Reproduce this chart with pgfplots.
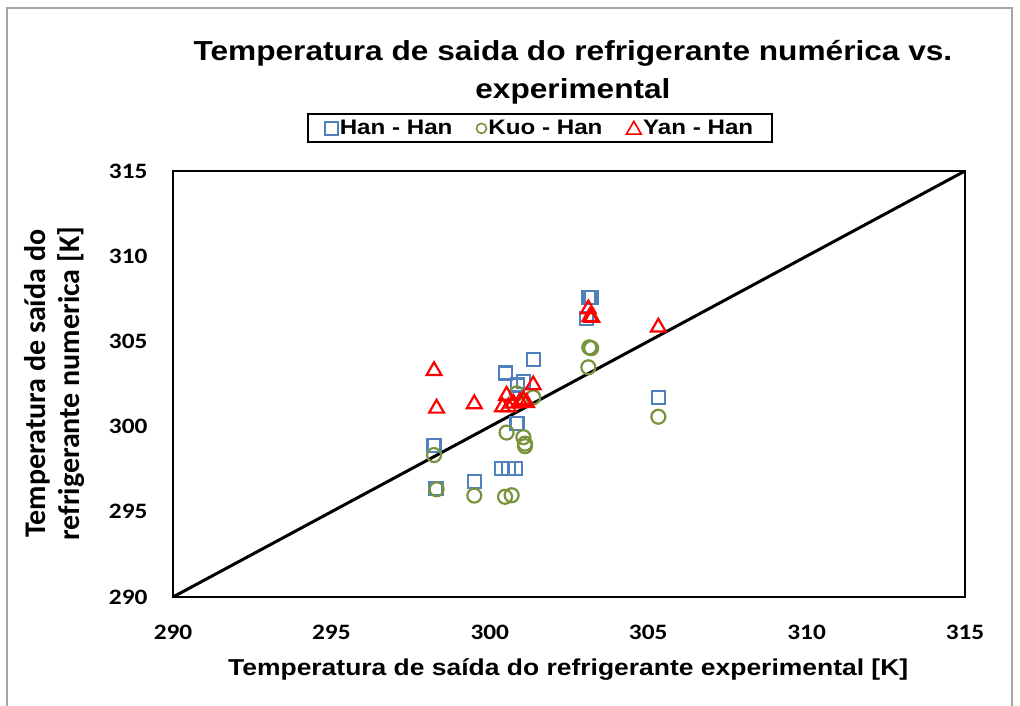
\documentclass[border=0pt]{standalone}
\usepackage{fontspec}
\setmainfont[FakeStretch=1.15]{Liberation Sans}
\newfontfamily\calibri[FakeStretch=1.15]{Carlito}
\newfontfamily\calibriR{Carlito}
\usepackage{pgfplots}
\pgfplotsset{compat=1.18}
\definecolor{hanblue}{RGB}{79,129,189}
\definecolor{kuogreen}{RGB}{119,147,60}
\definecolor{yanred}{RGB}{255,0,0}
\begin{document}
\begin{tikzpicture}[x=1pt,y=1pt]
\useasboundingbox (0,0) rectangle (1020,706);
\draw[gray!70, line width=1.2pt] (7,-5) -- (7,698) -- (1012,698) -- (1012,-5);
\begin{axis}[
  at={(173pt,109pt)}, anchor=south west,
  scale only axis, width=792pt, height=426pt,
  xmin=290, xmax=315, ymin=290, ymax=315,
  xtick={290,295,...,315}, ytick={290,295,...,315},
  major tick length=0pt,
  axis line style={line width=2.5pt, black},
  tick label style={font=\calibri\fontsize{22}{24}\selectfont\bfseries},
  /pgf/number format/assume math mode=true,
  xticklabel style={yshift=-25pt},
  yticklabel style={xshift=-22pt},
  title={Temperatura de saida do refrigerante numérica vs.\\experimental},
  title style={font=\fontsize{27.5}{38}\selectfont\bfseries, align=center, at={(rel axis cs:0.505,1.218)}, anchor=center},
  xlabel={Temperatura de saída do refrigerante experimental [K]},
  xlabel style={font=\fontsize{23}{26}\selectfont\bfseries, at={(rel axis cs:0.499,-0.171)}, anchor=center},
  ylabel={Temperatura de saída do\\refrigerante numerica [K]},
  ylabel style={font=\calibriR\fontsize{30}{34}\selectfont\bfseries, align=center, at={(rel axis cs:-0.149,0.501)}, anchor=center},
  legend columns=3,
  legend style={at={(rel axis cs:0.4634,1.100)}, anchor=center, draw=black, line width=2pt,
    font=\fontsize{21}{24}\selectfont\bfseries, inner xsep=17pt, inner ysep=4pt,
    /tikz/every even column/.append style={column sep=22pt}},
  legend cell align=left,
]
\addplot[only marks, mark=square, mark size=6.5pt, hanblue, line width=2.2pt,
  legend image code/.code={\draw[hanblue, line width=1.6pt] plot[mark=square, mark size=6.5pt] coordinates {(0.25cm,0cm)};}] coordinates {
(298.24,298.90) (298.30,296.35) (299.51,296.76) (300.38,297.53) (300.59,297.53)
(300.80,297.53) (300.50,303.15) (300.86,300.17) (300.87,302.44) (301.06,302.64)
(301.37,303.95) (303.13,307.56) (303.20,307.56) (303.05,306.35) (305.32,301.72)
};
\addlegendentry{Han - Han}
\addplot[only marks, mark=o, mark size=7pt, kuogreen, line width=2.2pt,
  legend image code/.code={\draw[kuogreen, line width=1.6pt] plot[mark=o, mark size=5pt] coordinates {(0.25cm,0cm)};}] coordinates {
(298.24,298.33) (298.32,296.32) (299.51,295.95) (300.48,295.88) (300.69,295.97)
(300.53,299.65) (301.06,299.38) (301.11,299.00) (301.11,298.85) (300.85,301.95)
(301.37,301.72) (303.14,304.65) (303.20,304.60) (303.11,303.48) (305.32,300.58)
};
\addlegendentry{Kuo - Han}
\addplot[only marks, mark=triangle, mark size=8.5pt, yanred, line width=2.2pt,
  legend image code/.code={\draw[yanred, line width=1.6pt] plot[mark=triangle, mark size=8.5pt] coordinates {(0.25cm,-0.05cm)};}] coordinates {
(298.24,303.28) (298.32,301.07) (299.51,301.33) (300.53,301.83) (300.40,301.15)
(300.59,301.15) (300.74,301.37) (300.95,301.46) (301.06,301.56) (301.16,301.40)
(301.37,302.44) (303.11,306.90) (303.16,306.45) (303.22,306.40) (305.32,305.83)
};
\addlegendentry{Yan - Han}
\addplot[black, line width=3pt, no marks, forget plot] coordinates {(290,290) (315,315)};
\end{axis}
\end{tikzpicture}
\end{document}
